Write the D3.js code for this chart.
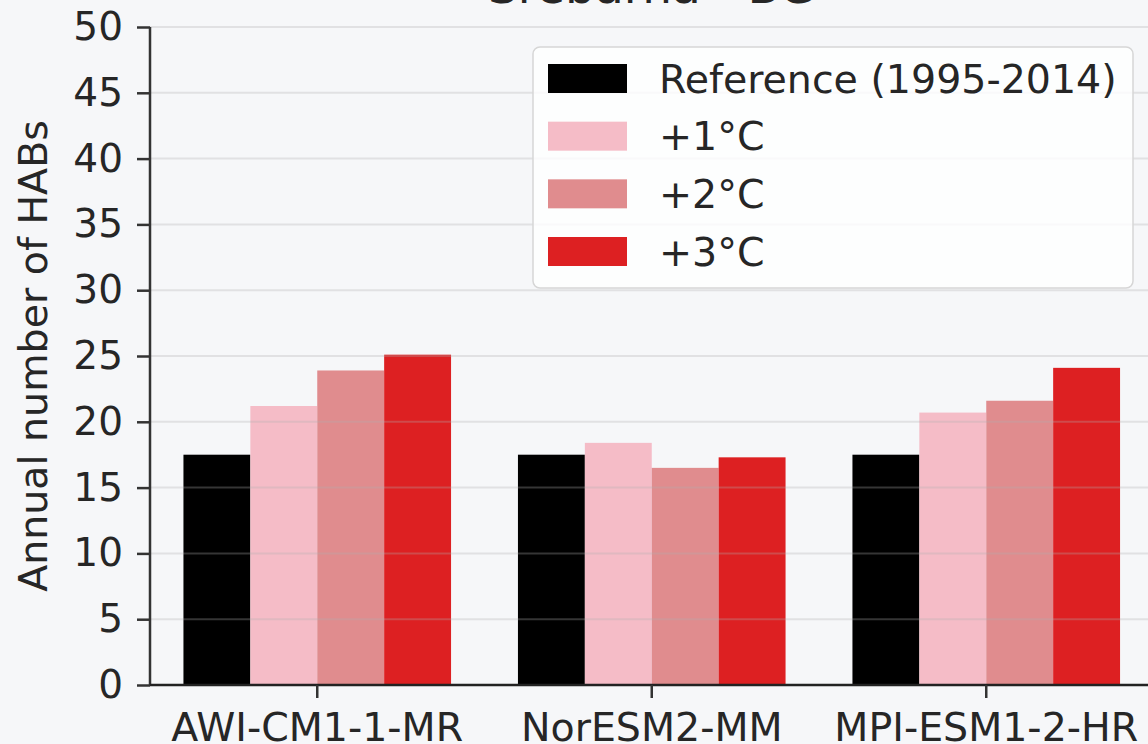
<!DOCTYPE html>
<html><head><meta charset="utf-8">
<script src="https://cdn.jsdelivr.net/npm/d3@7"></script>
<style>
html,body{margin:0;padding:0;background:#f6f7f9;}
svg{display:block;font-family:"DejaVu Sans",sans-serif;}
</style></head>
<body>
<svg id="chart" width="1148" height="744"></svg>
<script>
const title = "Srebarna - BG";
const yLabel = "Annual number of HABs";
const categories = ["AWI-CM1-1-MR", "NorESM2-MM", "MPI-ESM1-2-HR"];
const seriesNames = ["Reference (1995-2014)", "+1°C", "+2°C", "+3°C"];
const seriesColors = ["#000000", "#f5bcc7", "#e08c8e", "#dd2022"];
const referenceValues = [17.5, 17.5, 17.5];
const plus1Values = [21.2, 18.4, 20.7];
const plus2Values = [23.9, 16.5, 21.6];
const plus3Values = [25.1, 17.3, 24.1];
const yTicks = [0, 5, 10, 15, 20, 25, 30, 35, 40, 45, 50];

const seriesValues = [referenceValues, plus1Values, plus2Values, plus3Values];
const data = categories.map((c, i) => ({cat: c, vals: seriesValues.map((s, j) => ({name: seriesNames[j], v: s[i], color: seriesColors[j]}))}));

const svg = d3.select("#chart");
const mLeft = 150, mRight = 1153.5, mTop = 27, mBottom = 685;
const fs = 39.5;

const x = d3.scaleBand().domain(categories).range([mLeft, mRight]).paddingInner(0.2).paddingOuter(0.1);
const xs = d3.scaleBand().domain(seriesNames).range([0, x.bandwidth()]).padding(0);
const y = d3.scaleLinear().domain([0, 50]).range([mBottom, mTop]);

// bars
const g = svg.append("g");
g.selectAll("g.grp").data(data).join("g")
  .attr("transform", d => `translate(${x(d.cat)},0)`)
  .selectAll("rect").data(d => d.vals).join("rect")
  .attr("x", d => xs(d.name))
  .attr("width", xs.bandwidth())
  .attr("y", d => y(d.v))
  .attr("height", d => y(0) - y(d.v))
  .attr("fill", d => d.color);

// grid (above bars)
svg.append("g").selectAll("line").data(yTicks.filter(t => t > 0)).join("line")
  .attr("x1", mLeft).attr("x2", 1148)
  .attr("y1", d => y(d)).attr("y2", d => y(d))
  .attr("stroke", "#b0b0b0").attr("stroke-opacity", 0.3).attr("stroke-width", 2);

// y axis
const yAxis = svg.append("g").attr("transform", `translate(${mLeft},0)`)
  .call(d3.axisLeft(y).tickValues(yTicks).tickSize(13).tickPadding(14));
yAxis.select(".domain").attr("stroke", "#333").attr("stroke-width", 2.5).attr("d", `M0,${mTop}V${mBottom}`);
yAxis.selectAll(".tick line").attr("stroke", "#333").attr("stroke-width", 2.5);
yAxis.selectAll(".tick text").attr("font-size", 39).attr("fill", "#262626").attr("font-family", "DejaVu Sans");

// x axis
const xAxis = svg.append("g").attr("transform", `translate(0,${mBottom})`)
  .call(d3.axisBottom(x).tickSize(13).tickPadding(15));
xAxis.select(".domain").attr("stroke", "#222").attr("stroke-width", 2.5).attr("d", `M${mLeft},0H1148`);
xAxis.selectAll(".tick line").attr("stroke", "#333").attr("stroke-width", 2.5);
xAxis.selectAll(".tick text").attr("font-size", fs).attr("fill", "#262626").attr("font-family", "DejaVu Sans");

// y label
svg.append("text")
  .attr("transform", `translate(47,${(mTop + mBottom) / 2}) rotate(-90)`)
  .attr("text-anchor", "middle")
  .attr("font-size", fs).attr("fill", "#262626")
  .text(yLabel);

// title
svg.append("text")
  .attr("x", (mLeft + mRight) / 2).attr("y", 3)
  .attr("text-anchor", "middle")
  .attr("font-size", 47).attr("fill", "#262626")
  .text(title);

// legend
const lg = svg.append("g");
lg.append("rect").attr("x", 533).attr("y", 47).attr("width", 600).attr("height", 241)
  .attr("rx", 7).attr("fill", "#ffffff").attr("fill-opacity", 0.8)
  .attr("stroke", "#d6d6d6").attr("stroke-width", 1.5);
const rowY = d3.scalePoint().domain(seriesNames).range([78.5, 251.5]);
const items = lg.selectAll("g.item").data(seriesNames).join("g")
  .attr("transform", d => `translate(0,${rowY(d)})`);
items.append("rect").attr("x", 548).attr("y", -14.5).attr("width", 79).attr("height", 29)
  .attr("fill", (d, i) => seriesColors[i]);
items.append("text").attr("x", 659).attr("y", 14).attr("font-size", fs).attr("fill", "#262626")
  .text(d => d);
</script>
</body></html>
